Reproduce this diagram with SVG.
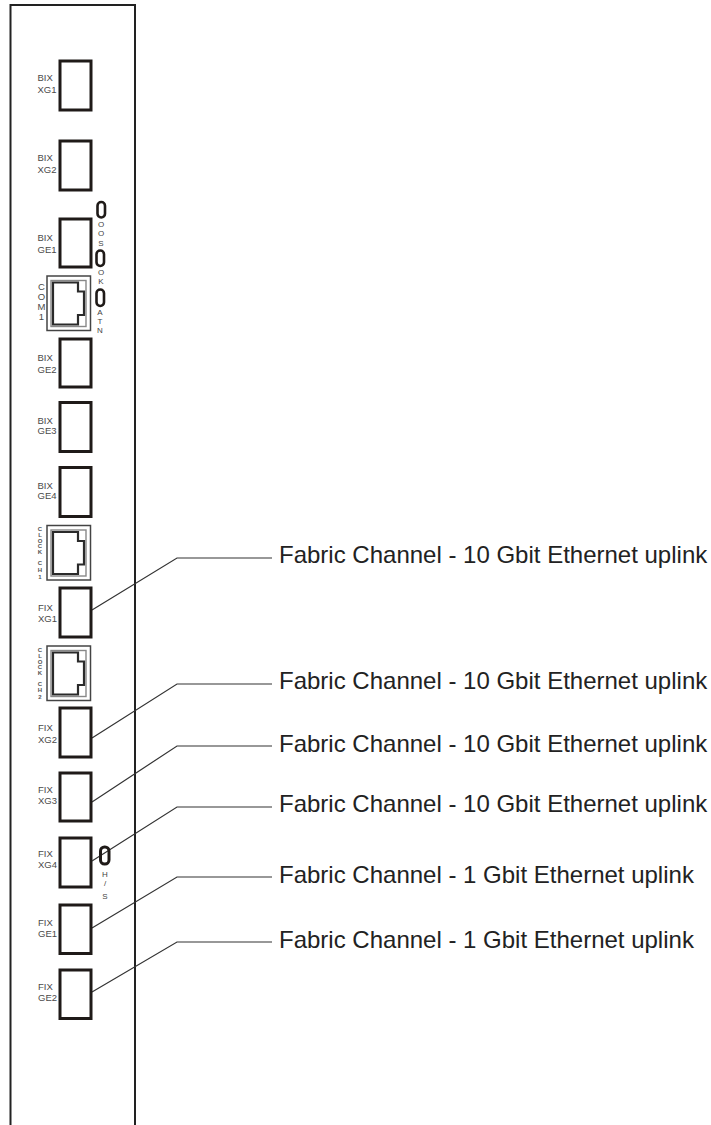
<svg xmlns="http://www.w3.org/2000/svg" width="711" height="1125" viewBox="0 0 711 1125">
<style>
.chassis{fill:none;stroke:#222;stroke-width:2}
.port{fill:#fff;stroke:#1f1a18;stroke-width:3}
.led{fill:#fff;stroke:#1f1a18;stroke-width:2.6}
.rjo{fill:#fff;stroke:#444;stroke-width:1.5}
.rji{fill:none;stroke:#888;stroke-width:1.4}
.rjp{fill:none;stroke:#2a2a2a;stroke-width:2.2}
.lbl{font-family:"Liberation Sans",Arial,sans-serif;font-size:9.5px;fill:#4a4a4a}
.tiny{font-family:"Liberation Sans",Arial,sans-serif;font-size:6px;font-weight:bold;fill:#555;text-anchor:middle}
.side{font-family:"Liberation Sans",Arial,sans-serif;font-size:8px;fill:#444;text-anchor:middle}
.big{font-family:"Liberation Sans",Arial,sans-serif;font-size:24px;fill:#222}
.conn{fill:none;stroke:#333;stroke-width:1.2}
</style>
<defs>
<g id="rj">
<rect class="rjo" x="0" y="0" width="43.500" height="54.500"/>
<rect class="rji" x="4" y="4.500" width="35" height="46"/>
<path class="rjp" d="M6 6.500H31V15.500H37V39H31V48.500H6Z"/>
</g>
</defs>
<g id="chassis"><path class="chassis" d="M10.500 1125V5H135V1125"/></g>
<g id="fix-xg4-port-under"><rect class="port" x="60" y="838" width="31" height="49"/></g>
<g id="connectors">
<path class="conn" d="M92 610L177 558H272"/>
<path class="conn" d="M92 738L177 684H272"/>
<path class="conn" d="M92 802L177 746H272"/>
<path class="conn" d="M92 861L177 807H272"/>
<path class="conn" d="M92 928L177 877H272"/>
<path class="conn" d="M92 992L177 942H272"/>
</g>
<g id="bix-xg1"><rect class="port" x="60" y="61" width="31" height="49"/><text class="lbl" x="37.500" y="81">BIX</text><text class="lbl" x="37.500" y="92.500">XG1</text></g>
<g id="bix-xg2"><rect class="port" x="60" y="141" width="31" height="49"/><text class="lbl" x="37.500" y="161">BIX</text><text class="lbl" x="37.500" y="172.500">XG2</text></g>
<g id="bix-ge1"><rect class="port" x="60" y="219" width="31" height="48"/><text class="lbl" x="37.500" y="241">BIX</text><text class="lbl" x="37.500" y="252.500">GE1</text></g>
<g id="com1"><use href="#rj" x="47" y="276"/><text class="lbl" x="41.500" y="290" text-anchor="middle">C</text><text class="lbl" x="41.500" y="300" text-anchor="middle">O</text><text class="lbl" x="41.500" y="310" text-anchor="middle">M</text><text class="lbl" x="41.500" y="320" text-anchor="middle">1</text></g>
<g id="bix-ge2"><rect class="port" x="60" y="339" width="31" height="48"/><text class="lbl" x="37.500" y="361">BIX</text><text class="lbl" x="37.500" y="372.500">GE2</text></g>
<g id="bix-ge3"><rect class="port" x="60" y="402.500" width="31" height="49"/><text class="lbl" x="37.500" y="423.500">BIX</text><text class="lbl" x="37.500" y="434">GE3</text></g>
<g id="bix-ge4"><rect class="port" x="60" y="467.500" width="31" height="49"/><text class="lbl" x="37.500" y="488.500">BIX</text><text class="lbl" x="37.500" y="498.500">GE4</text></g>
<g id="led-oos"><rect class="led" x="97.500" y="202" width="7.500" height="15.500" rx="3.700"/><text class="side" x="101" y="227">O</text><text class="side" x="101" y="236">O</text><text class="side" x="101" y="246">S</text></g>
<g id="led-ok"><rect class="led" x="96.500" y="250.500" width="7.500" height="15.500" rx="3.700"/><text class="side" x="101" y="275">O</text><text class="side" x="101" y="284">K</text></g>
<g id="led-atn"><rect class="led" x="96.500" y="289.500" width="7.500" height="16.500" rx="3.700"/><text class="side" x="100" y="315">A</text><text class="side" x="100" y="324">T</text><text class="side" x="100" y="333">N</text></g>
<g id="clock1"><use href="#rj" x="47" y="525.500"/><text class="tiny" x="40" y="531">C</text><text class="tiny" x="40" y="537">L</text><text class="tiny" x="40" y="543">O</text><text class="tiny" x="40" y="548">C</text><text class="tiny" x="40" y="554">K</text><text class="tiny" x="40" y="565">C</text><text class="tiny" x="40" y="572">H</text><text class="tiny" x="40" y="579">1</text></g>
<g id="fix-xg1"><rect class="port" x="60" y="588" width="31" height="49"/><text class="lbl" x="38" y="611">FIX</text><text class="lbl" x="38" y="622">XG1</text></g>
<g id="clock2"><use href="#rj" x="47" y="646"/><text class="tiny" x="40" y="652">C</text><text class="tiny" x="40" y="658">L</text><text class="tiny" x="40" y="664">O</text><text class="tiny" x="40" y="669">C</text><text class="tiny" x="40" y="675">K</text><text class="tiny" x="40" y="686">C</text><text class="tiny" x="40" y="692">H</text><text class="tiny" x="40" y="699">2</text></g>
<g id="fix-xg2"><rect class="port" x="60" y="708" width="31" height="49"/><text class="lbl" x="38" y="731">FIX</text><text class="lbl" x="38" y="742.500">XG2</text></g>
<g id="fix-xg3"><rect class="port" x="60" y="773" width="31" height="48"/><text class="lbl" x="38" y="792.500">FIX</text><text class="lbl" x="38" y="803.500">XG3</text></g>
<g id="fix-xg4"><text class="lbl" x="38" y="856.500">FIX</text><text class="lbl" x="38" y="867.500">XG4</text></g>
<g id="led-hs"><rect x="100.500" y="847" width="8.500" height="17" rx="4" fill="none" stroke="#1f1a18" stroke-width="3"/><text class="side" x="105" y="877">H</text><text class="side" x="105" y="886">/</text><text class="side" x="105" y="899">S</text></g>
<g id="fix-ge1"><rect class="port" x="60" y="905" width="31" height="48.500"/><text class="lbl" x="38" y="926">FIX</text><text class="lbl" x="38" y="936.500">GE1</text></g>
<g id="fix-ge2"><rect class="port" x="60" y="970" width="31" height="48.500"/><text class="lbl" x="38" y="990">FIX</text><text class="lbl" x="38" y="1000.500">GE2</text></g>
<g id="labels">
<text class="big" x="279" y="563">Fabric Channel - 10 Gbit Ethernet uplink</text>
<text class="big" x="279" y="689">Fabric Channel - 10 Gbit Ethernet uplink</text>
<text class="big" x="279" y="752">Fabric Channel - 10 Gbit Ethernet uplink</text>
<text class="big" x="279" y="812">Fabric Channel - 10 Gbit Ethernet uplink</text>
<text class="big" x="279" y="883">Fabric Channel - 1 Gbit Ethernet uplink</text>
<text class="big" x="279" y="948">Fabric Channel - 1 Gbit Ethernet uplink</text>
</g>
</svg>
